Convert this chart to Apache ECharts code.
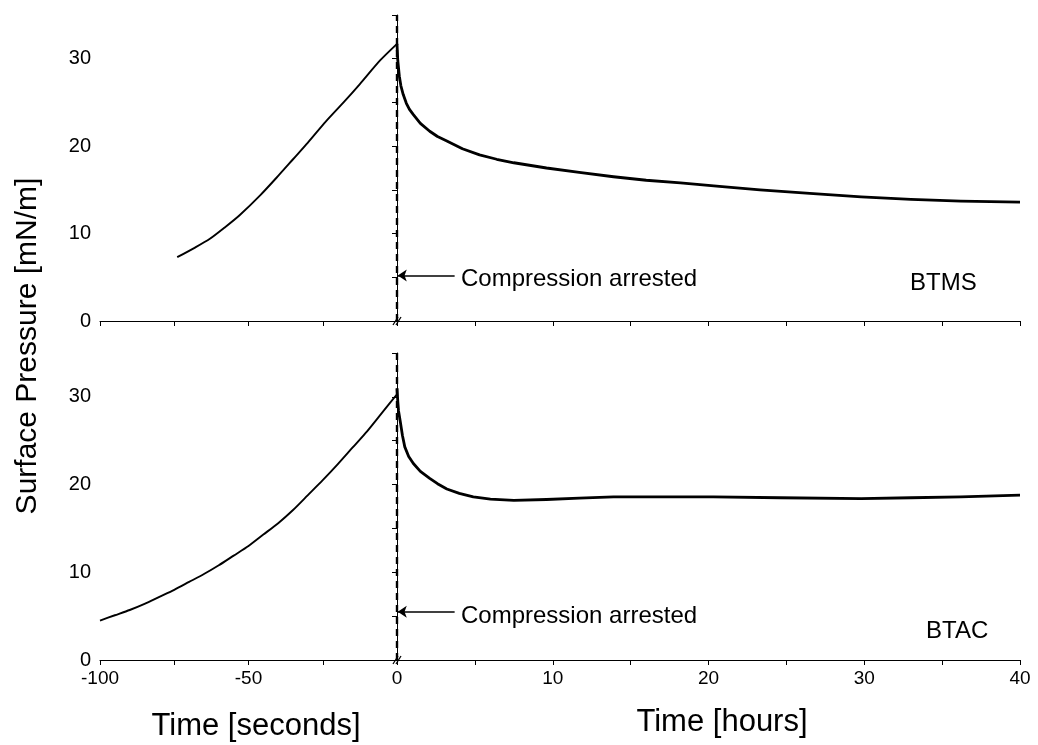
<!DOCTYPE html>
<html>
<head>
<meta charset="utf-8">
<script src="https://cdn.jsdelivr.net/npm/echarts@6/dist/echarts.min.js"></script>
<style>
  html, body { margin: 0; padding: 0; background: #fff; }
  #chart { width: 1038px; height: 745px; }
</style>
</head>
<body>
<div id="chart"></div>
<script>
// BTMS film: compression phase (seconds) and relaxation phase (hours)
const btmsSecT = [-74, -68, -63, -58, -53, -46, -40, -35, -30, -24, -18, -12.5, -5.7, 0];
const btmsSecP = [7.3, 8.4, 9.4, 10.7, 12.1, 14.4, 16.6, 18.5, 20.4, 22.8, 25.0, 27.1, 29.8, 31.7];
const btmsHrT = [0, 0.05, 0.15, 0.25, 0.4, 0.6, 0.8, 1.05, 1.5, 2.1, 2.6, 3.2, 4.2, 5.3, 6.4, 7.5,
                 9.6, 11.7, 13.9, 16, 18.2, 20.7, 23.3, 26.5, 29.8, 33, 36.2, 40];
const btmsHrP = [31.7, 29.8, 28.0, 26.9, 25.9, 24.9, 24.2, 23.6, 22.6, 21.7, 21.1, 20.6, 19.7, 19.0, 18.5, 18.1,
                 17.5, 17.0, 16.5, 16.1, 15.8, 15.4, 15.0, 14.6, 14.2, 13.9, 13.7, 13.6];

// BTAC film
const btacSecT = [-100, -95, -90, -85, -80, -75, -70, -65, -60, -55, -50, -45, -40, -35, -30, -25, -20, -15, -10, -5, 0];
const btacSecP = [4.5, 5.1, 5.7, 6.4, 7.2, 8.0, 8.9, 9.8, 10.8, 11.9, 13.0, 14.3, 15.6, 17.1, 18.8, 20.5, 22.3, 24.2, 26.1, 28.2, 30.3];
const btacHrT = [0, 0.05, 0.1, 0.2, 0.35, 0.5, 0.75, 1.05, 1.5, 2.1, 2.6, 3.2, 4, 4.9, 6, 7.5,
                 9.6, 11.7, 13.9, 17, 20.3, 24.6, 29.8, 33, 36.2, 40];
const btacHrP = [31.0, 29.5, 28.4, 27.3, 25.6, 24.3, 23.2, 22.4, 21.5, 20.7, 20.1, 19.5, 19.0, 18.6, 18.35, 18.2,
                 18.3, 18.45, 18.6, 18.6, 18.6, 18.5, 18.4, 18.5, 18.6, 18.8];

// Arrow marking the moment compression stops: [hours start, hours end]
const arrowHr = [3.7, 0.05];
const arrowP = [5.2, 5.5]; // surface pressure level of the arrow, top and bottom panel

const secTicks = [-100, -50];
const hrTicks = [0, 10, 20, 30, 40];
const pTicks = [0, 10, 20, 30];

const FONT = '"Liberation Sans", Arial, sans-serif';
const zip = (a, b) => a.map((v, i) => [v, b[i]]);

function xAxisDef(gridIndex, min, max, interval, labelList, show) {
  return {
    type: 'value', gridIndex, min, max, interval,
    axisLine: { show: true, onZero: false, lineStyle: { color: '#000', width: 1 } },
    axisTick: { show: true, length: 5, lineStyle: { color: '#000' } },
    splitLine: { show: false },
    axisLabel: {
      show, color: '#000', fontFamily: FONT, fontSize: 19, margin: 9,
      showMinLabel: true, showMaxLabel: true,
      formatter: v => labelList.includes(v) ? String(v) : ''
    }
  };
}
function yAxisDef(gridIndex, show) {
  return {
    type: 'value', gridIndex, min: 0, max: 35, interval: 5, show,
    axisLine: { show: true, lineStyle: { color: '#000', width: 1 } },
    axisTick: { show: true, length: 5, lineStyle: { color: '#000' } },
    splitLine: { show: false },
    axisLabel: {
      color: '#000', fontFamily: FONT, fontSize: 20, margin: 9,
      formatter: v => pTicks.includes(v) ? String(v) : ''
    }
  };
}
function markers(arrowLevel) {
  return {
    silent: true, animation: false,
    symbol: ['none', 'arrow'], symbolSize: 9,
    label: { show: false },
    lineStyle: { color: '#000', width: 1.5, type: 'solid' },
    data: [
      [{ coord: [0, 0], symbol: 'none', lineStyle: { type: [7, 5], width: 2.4, color: '#000' } },
       { coord: [0, 35], symbol: 'none' }],
      [{ coord: [arrowHr[0], arrowLevel], symbol: 'none' }, { coord: [arrowHr[1], arrowLevel], symbol: 'arrow' }]
    ]
  };
}
function curve(xi, data, width, smooth, mark) {
  const s = {
    type: 'line', xAxisIndex: xi, yAxisIndex: xi, data,
    showSymbol: false, smooth,
    lineStyle: { color: '#000', width, join: 'round' }, animation: false, silent: true
  };
  if (mark) s.markLine = mark;
  return s;
}

const chart = echarts.init(document.getElementById('chart'));
chart.setOption({
  backgroundColor: '#fff',
  grid: [
    { left: 100, top: 15, width: 297, height: 306 },
    { left: 397, top: 15, width: 623, height: 306 },
    { left: 100, top: 353, width: 297, height: 307 },
    { left: 397, top: 353, width: 623, height: 307 }
  ],
  xAxis: [
    xAxisDef(0, -100, 0, 25, secTicks, false),
    xAxisDef(1, 0, 40, 5, hrTicks, false),
    xAxisDef(2, -100, 0, 25, secTicks, true),
    xAxisDef(3, 0, 40, 5, hrTicks, true)
  ],
  yAxis: [yAxisDef(0, true), yAxisDef(1, false), yAxisDef(2, true), yAxisDef(3, false)],
  series: [
    curve(0, zip(btmsSecT, btmsSecP), 1.9, 0.25),
    curve(1, zip(btmsHrT, btmsHrP), 2.8, false, markers(arrowP[0])),
    curve(2, zip(btacSecT, btacSecP), 1.9, 0.25),
    curve(3, zip(btacHrT, btacHrP), 2.8, false, markers(arrowP[1]))
  ]
});

// Axis-break slashes where the seconds scale meets the hours scale, plus text
const graphics = [];
[1, 3].forEach(g => {
  const p = chart.convertToPixel({ gridIndex: g }, [0, 0]);
  const x = p[0], y = p[1];
  [[-4, 0], [-1, 3]].forEach(([a, b]) => {
    graphics.push({ type: 'line', silent: true,
      shape: { x1: x + a, y1: y + 4, x2: x + b + 1, y2: y - 4 },
      style: { stroke: '#000', lineWidth: 1.3 } });
  });
});
const txt = (text, x, y, size) => ({
  type: 'text', x, y, silent: true,
  style: { text, fill: '#000', font: size + 'px ' + FONT, textAlign: 'left', textVerticalAlign: 'middle' }
});
graphics.push(txt('Compression arrested', 461, 279, 24));
graphics.push(txt('Compression arrested', 461, 616, 24));
graphics.push(txt('BTMS', 910, 283, 24));
graphics.push(txt('BTAC', 926, 631, 24));
graphics.push({ type: 'text', x: 256, y: 726, silent: true,
  style: { text: 'Time [seconds]', fill: '#000', font: '31px ' + FONT, textAlign: 'center', textVerticalAlign: 'middle' } });
graphics.push({ type: 'text', x: 722, y: 722, silent: true,
  style: { text: 'Time [hours]', fill: '#000', font: '31px ' + FONT, textAlign: 'center', textVerticalAlign: 'middle' } });
graphics.push({ type: 'text', x: 28, y: 346, rotation: Math.PI / 2, silent: true,
  style: { text: 'Surface Pressure [mN/m]', fill: '#000', font: '30px ' + FONT, textAlign: 'center', textVerticalAlign: 'middle' } });
chart.setOption({ graphic: graphics });
</script>
</body>
</html>
